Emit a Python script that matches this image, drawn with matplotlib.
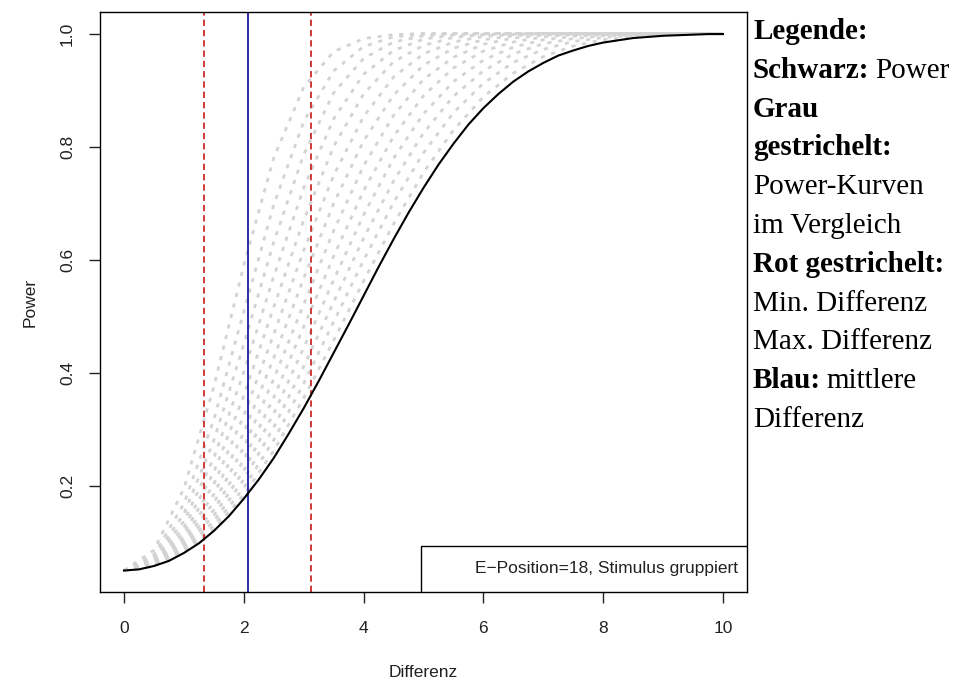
import matplotlib
matplotlib.use('Agg')
import matplotlib.pyplot as plt
from matplotlib.patches import Rectangle

plt.rcParams['font.family'] = ['Liberation Sans', 'DejaVu Sans']

# x grids (Differenz)
diff_fine = [0, 0.25, 0.5, 0.75, 1, 1.25, 1.5, 1.75, 2, 2.25, 2.5, 2.75, 3, 3.25, 3.5, 3.75,
             4, 4.25, 4.5, 4.75, 5, 5.25, 5.5, 5.75, 6, 6.25, 6.5, 6.75, 7, 7.25, 7.5, 7.75,
             8, 8.25, 8.5, 8.75, 9, 9.25, 9.5, 9.75, 10]
diff_coarse = [0, 0.5, 1, 1.5, 2, 2.5, 3, 3.5, 4, 4.5, 5, 5.5, 6, 6.5, 7, 7.5, 8, 8.5, 9, 9.5, 10]

# black: power of this condition
power_main = [0.05, 0.052, 0.058, 0.067, 0.081, 0.098, 0.120, 0.146, 0.177, 0.211, 0.249,
              0.292, 0.337, 0.385, 0.435, 0.485, 0.536, 0.587, 0.636, 0.683, 0.727, 0.768,
              0.805, 0.839, 0.868, 0.893, 0.915, 0.933, 0.948, 0.961, 0.970, 0.978, 0.984,
              0.988, 0.992, 0.994, 0.996, 0.997, 0.998, 0.999, 0.999]

# gray dashed: power curves for comparison
power_compare = [
    [0.05, 0.086, 0.195, 0.375, 0.590, 0.780, 0.905, 0.968, 0.991, 0.998, 1.0,
     1.0, 1.0, 1.0, 1.0, 1.0, 1.0, 1.0, 1.0, 1.0, 1.0],
    [0.05, 0.078, 0.168, 0.317, 0.508, 0.697, 0.844, 0.934, 0.977, 0.994, 0.999,
     1.0, 1.0, 1.0, 1.0, 1.0, 1.0, 1.0, 1.0, 1.0, 1.0],
    [0.05, 0.074, 0.150, 0.280, 0.450, 0.631, 0.786, 0.895, 0.956, 0.985, 0.996,
     0.999, 1.0, 1.0, 1.0, 1.0, 1.0, 1.0, 1.0, 1.0, 1.0],
    [0.05, 0.071, 0.137, 0.249, 0.401, 0.570, 0.727, 0.849, 0.928, 0.970, 0.990,
     0.997, 0.999, 1.0, 1.0, 1.0, 1.0, 1.0, 1.0, 1.0, 1.0],
    [0.05, 0.069, 0.126, 0.224, 0.359, 0.516, 0.670, 0.800, 0.893, 0.950, 0.979,
     0.993, 0.998, 0.999, 1.0, 1.0, 1.0, 1.0, 1.0, 1.0, 1.0],
    [0.05, 0.066, 0.117, 0.203, 0.324, 0.468, 0.616, 0.749, 0.853, 0.923, 0.964,
     0.985, 0.995, 0.998, 1.0, 1.0, 1.0, 1.0, 1.0, 1.0, 1.0],
    [0.05, 0.065, 0.109, 0.185, 0.294, 0.426, 0.567, 0.699, 0.810, 0.891, 0.944,
     0.974, 0.989, 0.996, 0.999, 1.0, 1.0, 1.0, 1.0, 1.0, 1.0],
    [0.05, 0.063, 0.103, 0.170, 0.268, 0.389, 0.521, 0.651, 0.766, 0.855, 0.919,
     0.958, 0.981, 0.992, 0.997, 0.999, 1.0, 1.0, 1.0, 1.0, 1.0],
    [0.05, 0.062, 0.098, 0.157, 0.246, 0.356, 0.481, 0.606, 0.722, 0.818, 0.890,
     0.939, 0.969, 0.985, 0.994, 0.998, 0.999, 1.0, 1.0, 1.0, 1.0],
    [0.05, 0.061, 0.093, 0.147, 0.227, 0.328, 0.444, 0.564, 0.679, 0.779, 0.858,
     0.915, 0.953, 0.976, 0.989, 0.995, 0.998, 0.999, 1.0, 1.0, 1.0],
    [0.05, 0.060, 0.089, 0.137, 0.211, 0.303, 0.411, 0.525, 0.638, 0.739, 0.824,
     0.889, 0.934, 0.964, 0.982, 0.991, 0.996, 0.998, 0.999, 1.0, 1.0],
    [0.05, 0.059, 0.086, 0.129, 0.196, 0.281, 0.381, 0.490, 0.599, 0.701, 0.789,
     0.860, 0.912, 0.949, 0.972, 0.986, 0.993, 0.997, 0.999, 0.9995, 1.0],
    [0.05, 0.058, 0.083, 0.122, 0.184, 0.262, 0.355, 0.457, 0.562, 0.663, 0.754,
     0.829, 0.888, 0.930, 0.959, 0.978, 0.989, 0.994, 0.998, 0.999, 1.0],
]

diff_min = 1.33
diff_mean = 2.07
diff_max = 3.13

legend_label = "E\u2212Position=18, Stimulus gruppiert"

fig = plt.figure(figsize=(9.68, 6.8), dpi=100)
ax = fig.add_axes([0.1033, 0.1294, 0.6684, 0.8529])

for curve in power_compare:
    ax.plot(diff_coarse, curve, color='#d3d3d3', lw=2.0, dashes=(1.5, 2.4), zorder=1)

# verticals: min / max difference (red dashed), mean difference (blue)
for v in (diff_min, diff_max):
    ax.axvline(v, color='#cc2a2a', lw=1.3, dashes=(3.5, 2.2), zorder=2)
ax.axvline(diff_mean, color='#1c1ca0', lw=1.3, zorder=2)

ax.plot(diff_fine, power_main, color='black', lw=1.5, zorder=3)

ax.set_xlim(-0.4, 10.4)
ax.set_ylim(0.012, 1.038)
ax.set_xticks([0, 2, 4, 6, 8, 10])
ax.set_yticks([0.2, 0.4, 0.6, 0.8, 1.0])
ax.set_yticklabels(['0.2', '0.4', '0.6', '0.8', '1.0'])
ax.tick_params(direction='out', length=8, width=1, labelsize=12.5, colors='#222222')
ax.tick_params(axis='x', pad=13)
ax.tick_params(axis='y', pad=10)
for lab in ax.get_yticklabels():
    lab.set_rotation(90)
    lab.set_va('center')
for s in ax.spines.values():
    s.set_linewidth(1.0)

ax.set_xlabel("Differenz", fontsize=12.5, labelpad=21, color='#222222')
ax.set_ylabel("Power", fontsize=12.5, labelpad=16, color='#222222')

# legend box in lower right
ax.add_patch(Rectangle((0.496, 0), 0.504, 0.079, transform=ax.transAxes,
                       facecolor='white', edgecolor='black', lw=1.0, zorder=5))
ax.text(0.986, 0.040, legend_label, transform=ax.transAxes, ha='right', va='center',
        fontsize=12.5, color='#222222', zorder=6)

# text legend on the right
serif = dict(family='Liberation Serif', fontsize=21, color='black')
x0 = 753 / 968
lines = [
    ("Legende:", None),
    ("Schwarz:", "Power"),
    ("Grau", None),
    ("gestrichelt:", None),
    (None, "Power-Kurven"),
    (None, "im Vergleich"),
    ("Rot gestrichelt:", None),
    (None, "Min. Differenz"),
    (None, "Max. Differenz"),
    ("Blau:", "mittlere"),
    (None, "Differenz"),
]
for i, (bold, normal) in enumerate(lines):
    y = 1 - (39 + i * 38.8) / 680
    if bold is not None:
        t = fig.text(x0, y, bold, fontweight='bold', va='baseline', ha='left', **serif)
        if normal is not None:
            fig.canvas.draw()
            ax.annotate(normal, xy=(1, 0), xycoords=t, xytext=(4, 0),
                        textcoords='offset points', va='bottom', ha='left',
                        annotation_clip=False, **serif)
    else:
        fig.text(x0, y, normal, va='baseline', ha='left', **serif)

fig.savefig('out.png', dpi=100)
